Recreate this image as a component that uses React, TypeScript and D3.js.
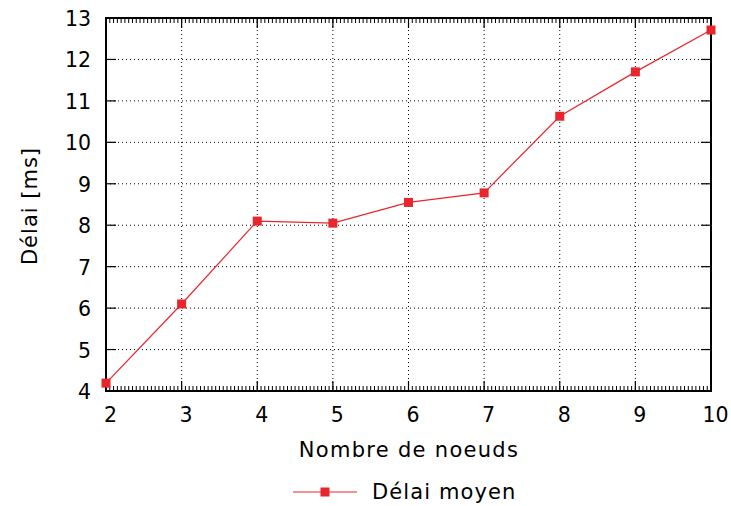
import React from "react";
import * as d3 from "d3";

const nodes = [2, 3, 4, 5, 6, 7, 8, 9, 10];
const delays = [4.19, 6.1, 8.1, 8.05, 8.55, 8.78, 10.63, 11.7, 12.71];
const yTicks = [4, 5, 6, 7, 8, 9, 10, 11, 12, 13];
const xTicks = [2, 3, 4, 5, 6, 7, 8, 9, 10];
const seriesName = "Délai moyen";
const xLabel = "Nombre de noeuds";
const yLabel = "Délai [ms]";

const W = 731, H = 506;
const M = { left: 106, right: 711, top: 18, bottom: 391 };
const FONT = "DejaVu Sans, sans-serif";
const RED = "#e8262b";

export default function App() {
  const x = d3.scaleLinear().domain([2, 10]).range([M.left, M.right]);
  const y = d3.scaleLinear().domain([4, 13]).range([M.bottom, M.top]);
  const pts = nodes.map((n, i) => [x(n), y(delays[i])] as [number, number]);
  const line = d3.line()(pts) || "";
  const minor = d3.range(2, 10.0001, 0.05).map((v) => Math.round(v * 100) / 100);

  return (
    <svg width={W} height={H} style={{ position: "absolute", left: 0, top: 0, background: "#fff" }}>
      {/* grid */}
      {xTicks.slice(1, -1).map((t) => (
        <line key={"gx" + t} x1={x(t)} x2={x(t)} y1={M.top} y2={M.bottom} stroke="#000" strokeWidth={1} strokeDasharray="1,3" />
      ))}
      {yTicks.slice(1, -1).map((t) => (
        <line key={"gy" + t} x1={M.left} x2={M.right} y1={y(t)} y2={y(t)} stroke="#000" strokeWidth={1} strokeDasharray="1,3" />
      ))}
      {/* minor x ticks */}
      {minor.map((t, i) => (
        <g key={"mx" + i}>
          <line x1={x(t)} x2={x(t)} y1={M.bottom} y2={M.bottom - 5} stroke="#000" strokeWidth={1} />
          <line x1={x(t)} x2={x(t)} y1={M.top} y2={M.top + 5} stroke="#000" strokeWidth={1} />
        </g>
      ))}
      {/* major x ticks */}
      {xTicks.map((t) => (
        <g key={"tx" + t}>
          <line x1={x(t)} x2={x(t)} y1={M.bottom} y2={M.bottom - 10} stroke="#000" strokeWidth={1.2} />
          <line x1={x(t)} x2={x(t)} y1={M.top} y2={M.top + 10} stroke="#000" strokeWidth={1.2} />
          <text x={x(t) + 4.5} y={422} textAnchor="middle" fontFamily={FONT} fontSize={20.5} fill="#000">{t}</text>
        </g>
      ))}
      {/* y ticks */}
      {yTicks.map((t) => (
        <g key={"ty" + t}>
          <line x1={M.left} x2={M.left + 10} y1={y(t)} y2={y(t)} stroke="#000" strokeWidth={1.2} />
          <line x1={M.right} x2={M.right - 10} y1={y(t)} y2={y(t)} stroke="#000" strokeWidth={1.2} />
          <text x={91} y={y(t) + 8} textAnchor="end" fontFamily={FONT} fontSize={20.5} fill="#000">{t}</text>
        </g>
      ))}
      {/* frame */}
      <rect x={M.left} y={M.top} width={M.right - M.left} height={M.bottom - M.top} fill="none" stroke="#000" strokeWidth={2} />
      {/* series */}
      <path d={line} fill="none" stroke={RED} strokeWidth={1.2} />
      {pts.map(([px, py], i) => (
        <rect key={"p" + i} x={px - 4.5} y={py - 4.5} width={9} height={9} fill={RED} />
      ))}
      {/* axis labels */}
      <text x={409} y={457} textAnchor="middle" fontFamily={FONT} fontSize={21} letterSpacing={1.3} fill="#000">{xLabel}</text>
      <text transform={`translate(37,206) rotate(-90)`} textAnchor="middle" fontFamily={FONT} fontSize={21} letterSpacing={1.0} fill="#000">{yLabel}</text>
      {/* legend */}
      <line x1={293} x2={357} y1={492} y2={492} stroke={RED} strokeWidth={1.2} />
      <rect x={325 - 4.5} y={492 - 4.5} width={9} height={9} fill={RED} />
      <text x={372} y={499} fontFamily={FONT} fontSize={21} letterSpacing={1.1} fill="#000">{seriesName}</text>
    </svg>
  );
}
